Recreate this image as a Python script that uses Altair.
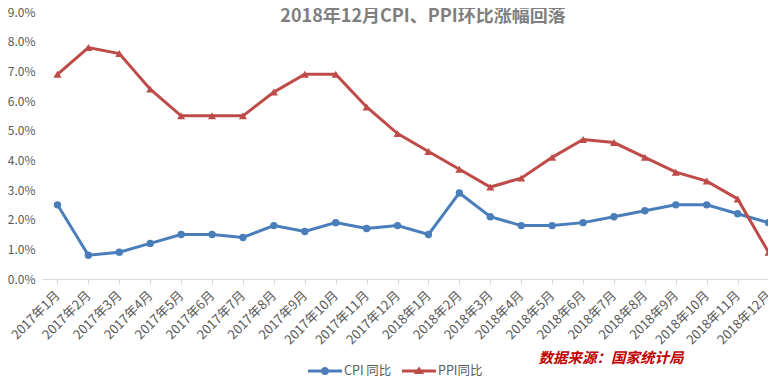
import altair as alt
import pandas as pd

MONTHS = [f"2017年{m}月" for m in range(1, 13)] + [f"2018年{m}月" for m in range(1, 13)]
CPI = [2.5, 0.8, 0.9, 1.2, 1.5, 1.5, 1.4, 1.8, 1.6, 1.9, 1.7, 1.8,
       1.5, 2.9, 2.1, 1.8, 1.8, 1.9, 2.1, 2.3, 2.5, 2.5, 2.2, 1.9]
PPI = [6.9, 7.8, 7.6, 6.4, 5.5, 5.5, 5.5, 6.3, 6.9, 6.9, 5.8, 4.9,
       4.3, 3.7, 3.1, 3.4, 4.1, 4.7, 4.6, 4.1, 3.6, 3.3, 2.7, 0.9]
SERIES = ["CPI 同比", "PPI同比"]
COLORS = ["#4a7ebb", "#be4b48"]
Y_TICKS = [0, 0.01, 0.02, 0.03, 0.04, 0.05, 0.06, 0.07, 0.08, 0.09]
TITLE = ["2018年12月CPI、PPI环比涨幅回落"]
SOURCE = ["数据来源：国家统计局"]

rows = []
for m, v in zip(MONTHS, CPI):
    rows.append({"month": m, "series": SERIES[0], "value": v / 100})
for m, v in zip(MONTHS, PPI):
    rows.append({"month": m, "series": SERIES[1], "value": v / 100})
df = pd.DataFrame(rows)

FONT = "Noto Sans CJK SC"

x_enc = alt.X(
    "month:N", sort=MONTHS, title=None,
    scale=alt.Scale(domain=MONTHS, range=[0, 742], paddingInner=0, paddingOuter=0),
    axis=alt.Axis(labelAngle=-45, labelAlign="right", labelBaseline="middle",
                  bandPosition=0, tickSize=5, labelPadding=9,
                  tickColor="#d9d9d9", domainColor="#d9d9d9", labelColor="#595959",
                  labelFont=FONT, labelFontSize=13, grid=False, labelOverlap=False),
)
y_enc = alt.Y(
    "value:Q", title=None,
    scale=alt.Scale(domain=[0, 0.09], nice=False),
    axis=alt.Axis(values=Y_TICKS, format=".1%", ticks=False, domain=False, grid=False,
                  labelPadding=7, labelColor="#595959", labelFont=FONT, labelFontSize=12),
)
color_scale = alt.Scale(domain=SERIES, range=COLORS)
fill_scale = alt.Scale(domain=SERIES, range=COLORS)

base = alt.Chart(df)

CIRCLE_PATH = ("M-1,-0.09L1,-0.09L1,0.09L-1,0.09Z "
               "M0.24,0A0.24,0.24,0,1,1,-0.24,0A0.24,0.24,0,1,1,0.24,0Z")
TRI_PATH = "M-1,-0.09L1,-0.09L1,0.09L-1,0.09Z M0,-0.27L0.3,0.17L-0.3,0.17Z"


def make_legend(value, path, x):
    return alt.Legend(title=None, orient="none", legendX=x, legendY=342,
                      direction="horizontal", values=[value],
                      symbolType=path, symbolSize=1156, symbolStrokeWidth=0,
                      labelFont=FONT, labelFontSize=12.5, labelColor="#595959",
                      labelOffset=2)


lines = base.mark_line(strokeWidth=3).encode(
    x=x_enc, y=y_enc,
    color=alt.Color("series:N", scale=color_scale, legend=None),
    detail="series:N",
)
pts_cpi = base.transform_filter(alt.datum.series == SERIES[0]).mark_point(
    filled=True, shape="circle", size=55, opacity=1
).encode(
    x=x_enc, y=y_enc,
    fill=alt.Fill("series:N", scale=fill_scale,
                  legend=make_legend(SERIES[0], CIRCLE_PATH, 266)),
)
pts_ppi = base.transform_filter(alt.datum.series == SERIES[1]).mark_point(
    filled=True, shape="triangle-up", size=65, opacity=1
).encode(
    x=x_enc, y=y_enc,
    fill=alt.Fill("series:N", scale=fill_scale,
                  legend=make_legend(SERIES[1], TRI_PATH, 360)),
)

title = alt.Chart(pd.DataFrame({"t": TITLE})).mark_text(
    font=FONT, fontSize=18, fontWeight="bold", color="#7f7f7f",
    align="center", baseline="middle",
).encode(text="t:N", x=alt.value(381), y=alt.value(5))

src = alt.Chart(pd.DataFrame({"t": SOURCE})).mark_text(
    font=FONT, fontSize=14.5, fontWeight="bold", fontStyle="italic", color="#c00000",
    align="center", baseline="middle",
).encode(text="t:N", x=alt.value(569), y=alt.value(347))

chart = alt.layer(lines, pts_cpi, pts_ppi, title, src).resolve_legend(
    fill="independent"
).properties(
    width=726, height=267,
    padding={"left": 34, "top": 4, "right": 0, "bottom": 100},
    autosize=alt.AutoSizeParams(type="none"),
).configure_view(stroke=None)

chart.save("out.html", embed_options={"renderer": "svg", "actions": False})
